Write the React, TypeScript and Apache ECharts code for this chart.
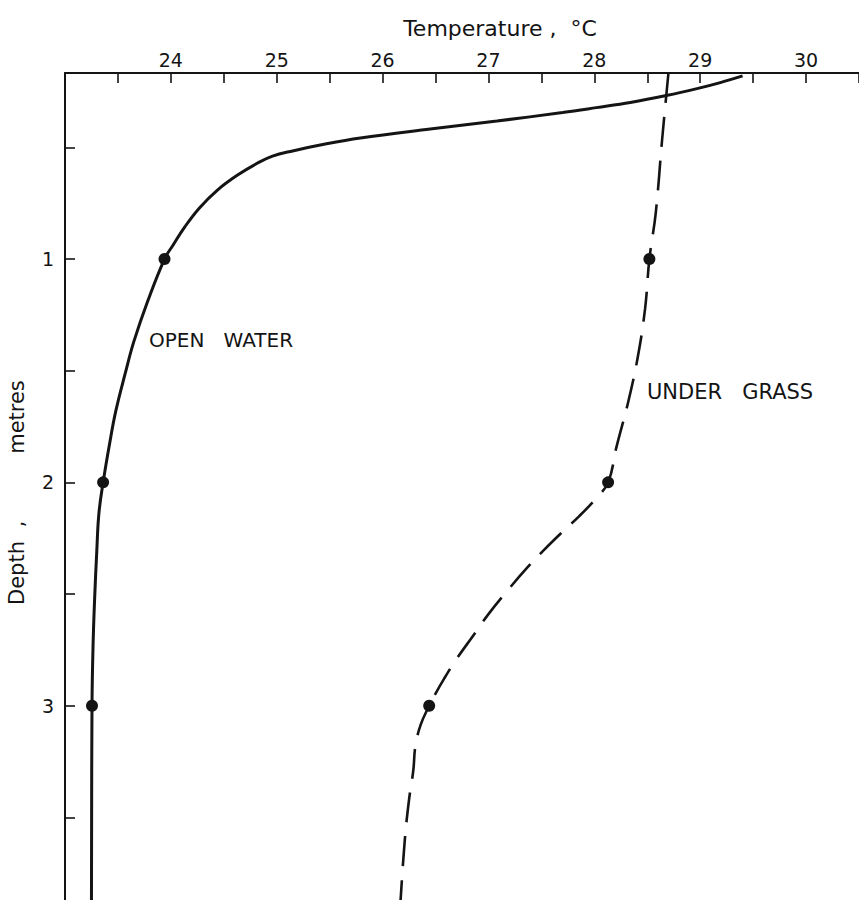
import React, { useEffect, useRef } from "react";
import * as echarts from "echarts";

// Temperature axis (°C) and depth axis (m)
const tempTickLabels = [24, 25, 26, 27, 28, 29, 30];
const depthTickLabels = [1, 2, 3];
const depthTicks = [0.5, 1, 1.5, 2, 2.5, 3, 3.5];

// OPEN WATER profile (solid curve)
const openWaterTemp = [
  29.4, 29.19, 28.97, 28.68, 28.34, 28.02, 27.7, 27.08, 26.45, 25.79, 25.47,
  25.15, 24.96, 24.82, 24.63, 24.44, 24.27, 24.13, 24.02, 23.94,
  23.78, 23.65, 23.57, 23.48, 23.42, 23.36,
  23.32, 23.3, 23.28, 23.265, 23.255, 23.25,
];
const openWaterDepth = [
  0.18, 0.21, 0.237, 0.268, 0.299, 0.322, 0.344, 0.382, 0.418, 0.458, 0.484,
  0.516, 0.539, 0.57, 0.624, 0.691, 0.771, 0.857, 0.938, 1.0,
  1.19, 1.37, 1.51, 1.68, 1.83, 2.0,
  2.14, 2.31, 2.52, 2.73, 3.0, 3.87,
];
// OPEN WATER measured points
const openWaterObsTemp = [23.94, 23.36, 23.255];

// UNDER GRASS profile (dashed curve)
const underGrassTemp = [
  28.7, 28.64, 28.58, 28.52, 28.48, 28.41, 28.32, 28.21, 28.13,
  28.01, 27.86, 27.68, 27.53, 27.37, 27.17, 27.0, 26.85, 26.7, 26.58, 26.495,
  26.44, 26.36, 26.31, 26.29, 26.25, 26.21, 26.17,
];
const underGrassDepth = [
  0.167, 0.467, 0.794, 1.0, 1.22, 1.44, 1.64, 1.84, 2.0,
  2.075, 2.15, 2.23, 2.3, 2.38, 2.49, 2.59, 2.69, 2.79, 2.88, 2.95,
  3.0, 3.085, 3.18, 3.29, 3.42, 3.6, 3.87,
];
// UNDER GRASS measured points
const underGrassObsTemp = [28.52, 28.13, 26.44];

const obsDepth = [1, 2, 3];

const FONT = "DejaVu Sans";
const INK = "#141414";

const zip = (a: number[], b: number[]) => a.map((v, i) => [v, b[i]]);

export default function App() {
  const ref = useRef<HTMLDivElement>(null);

  useEffect(() => {
    if (!ref.current) return;
    const chart = echarts.init(ref.current, null, { renderer: "svg" });
    chart.setOption({
      animation: false,
      backgroundColor: "#ffffff",
      grid: { left: 65, top: 73, right: 0, bottom: 0, containLabel: false },
      xAxis: {
        type: "value",
        position: "top",
        min: 23,
        max: 30.5,
        interval: 0.5,
        axisLine: { show: true, onZero: false, lineStyle: { color: INK, width: 2 } },
        axisTick: { show: true, inside: true, length: 10, lineStyle: { color: INK, width: 1.6 } },
        axisLabel: {
          customValues: tempTickLabels,
          margin: 4,
          fontSize: 19,
          fontFamily: FONT,
          color: INK,
        },
        splitLine: { show: false },
      },
      yAxis: {
        type: "value",
        inverse: true,
        min: 0.167,
        max: 3.87,
        axisLine: { show: true, onZero: false, lineStyle: { color: INK, width: 2 } },
        axisTick: {
          show: true,
          customValues: depthTicks,
          inside: true,
          length: 10,
          lineStyle: { color: INK, width: 1.6 },
        },
        axisLabel: {
          customValues: depthTickLabels,
          margin: 11,
          fontSize: 19,
          fontFamily: FONT,
          color: INK,
        },
        splitLine: { show: false },
      },
      series: [
        {
          name: "OPEN WATER",
          type: "line",
          data: zip(openWaterTemp, openWaterDepth),
          symbol: "none",
          smooth: 0.4,
          lineStyle: { color: INK, width: 3 },
          silent: true,
        },
        {
          name: "OPEN WATER points",
          type: "scatter",
          data: zip(openWaterObsTemp, obsDepth),
          symbolSize: 12,
          itemStyle: { color: INK, opacity: 1 },
          silent: true,
        },
        {
          name: "UNDER GRASS",
          type: "line",
          data: zip(underGrassTemp, underGrassDepth),
          symbol: "none",
          smooth: 0.4,
          lineStyle: { color: INK, width: 2.6, type: [30, 14] },
          silent: true,
        },
        {
          name: "UNDER GRASS points",
          type: "scatter",
          data: zip(underGrassObsTemp, obsDepth),
          symbolSize: 12,
          itemStyle: { color: INK, opacity: 1 },
          silent: true,
        },
      ],
      graphic: [
        {
          type: "text",
          x: 500,
          y: 28,
          style: {
            text: "Temperature ,  °C",
            fontSize: 22,
            fontFamily: FONT,
            fill: INK,
            align: "center",
            verticalAlign: "middle",
          },
        },
        {
          type: "text",
          x: 17,
          y: 573,
          rotation: Math.PI / 2,
          style: { text: "Depth", fontSize: 21, fontFamily: FONT, fill: INK, align: "center", verticalAlign: "middle" },
        },
        {
          type: "text",
          x: 17,
          y: 524,
          rotation: Math.PI / 2,
          style: { text: ",", fontSize: 21, fontFamily: FONT, fill: INK, align: "center", verticalAlign: "middle" },
        },
        {
          type: "text",
          x: 17,
          y: 417,
          rotation: Math.PI / 2,
          style: { text: "metres", fontSize: 21, fontFamily: FONT, fill: INK, align: "center", verticalAlign: "middle" },
        },
        {
          type: "text",
          x: 149,
          y: 340,
          style: { text: "OPEN   WATER", fontSize: 20, fontFamily: FONT, fill: INK, align: "left", verticalAlign: "middle" },
        },
        {
          type: "text",
          x: 647,
          y: 392,
          style: { text: "UNDER   GRASS", fontSize: 21, fontFamily: FONT, fill: INK, align: "left", verticalAlign: "middle" },
        },
      ],
    });
    return () => chart.dispose();
  }, []);

  return (
    <div
      ref={ref}
      style={{ position: "fixed", left: 0, top: 0, width: 859, height: 900, background: "#fff" }}
    />
  );
}
